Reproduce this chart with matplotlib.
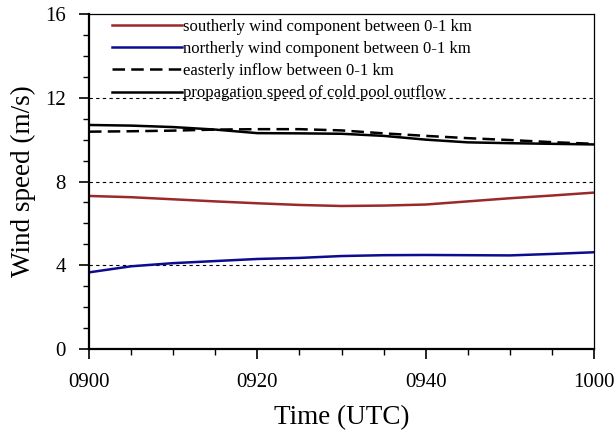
import numpy as np
import matplotlib
matplotlib.use("Agg")
import matplotlib.pyplot as plt
from matplotlib.ticker import MultipleLocator

# minutes after 0900 UTC
minutes = [0, 5, 10, 15, 20, 25, 30, 35, 40, 45, 50, 55, 60]

southerly = [7.31, 7.25, 7.15, 7.05, 6.96, 6.88, 6.83, 6.85, 6.90, 7.05, 7.20, 7.33, 7.47]
northerly = [3.66, 3.95, 4.10, 4.20, 4.30, 4.35, 4.44, 4.48, 4.49, 4.48, 4.47, 4.54, 4.62]
easterly = [10.38, 10.40, 10.43, 10.48, 10.50, 10.50, 10.44, 10.30, 10.18, 10.07, 9.98, 9.88, 9.80]
cold_pool = [10.70, 10.67, 10.60, 10.48, 10.31, 10.30, 10.28, 10.18, 10.00, 9.87, 9.83, 9.80, 9.77]

xtick_pos = [0, 20, 40, 60]
xtick_labels = ["0900", "0920", "0940", "1000"]
ytick_pos = [0, 4, 8, 12, 16]

plt.rcParams['font.family'] = ['Liberation Serif', 'DejaVu Serif']

fig = plt.figure(figsize=(6.16, 4.30), dpi=100)
ax = fig.add_axes([0.1445, 0.1884, 0.8198, 0.779])

# dotted reference lines
for yv in [4, 8, 12]:
    ax.axhline(yv, color='black', lw=0.8, ls=(0, (3, 3)), zorder=1)

ax.plot(minutes, southerly, color='#9a2a2a', lw=1.8,
        label='southerly wind component between 0-1 km')
ax.plot(minutes, northerly, color='#0c0c90', lw=1.8,
        label='northerly wind component between 0-1 km')
ax.plot(minutes, easterly, color='black', lw=1.8, dashes=(5, 2.5),
        label='easterly inflow between 0-1 km')
ax.plot(minutes, cold_pool, color='black', lw=1.8,
        label='propagation speed of cold pool outflow')

ax.set_xlim(0, 60)
ax.set_ylim(0, 16)
ax.set_xticks(xtick_pos)
ax.set_xticklabels(xtick_labels)
ax.set_yticks(ytick_pos)
ax.xaxis.set_minor_locator(MultipleLocator(5))
ax.yaxis.set_minor_locator(MultipleLocator(1))

ax.tick_params(axis='both', which='major', direction='out', length=7.5, width=1.2,
               labelsize=15, top=False, right=False)
ax.tick_params(axis='both', which='minor', direction='out', length=4.5, width=1.0,
               top=False, right=False)
ax.tick_params(axis='x', which='major', pad=10)
ax.tick_params(axis='y', which='major', pad=9)

ax.spines['left'].set_linewidth(1.6)
ax.spines['bottom'].set_linewidth(1.6)
ax.spines['top'].set_linewidth(0.9)
ax.spines['right'].set_linewidth(0.9)

ax.set_xlabel('Time (UTC)', fontsize=19.5, labelpad=9)
ax.set_ylabel('Wind speed (m/s)', fontsize=19.5, labelpad=7)

leg = ax.legend(loc='upper left', bbox_to_anchor=(0.022, 1.02), frameon=False,
                fontsize=12, handlelength=4.2, handletextpad=0.05,
                labelspacing=0.37, borderaxespad=0.3)

fig.savefig('out.png', dpi=100)
